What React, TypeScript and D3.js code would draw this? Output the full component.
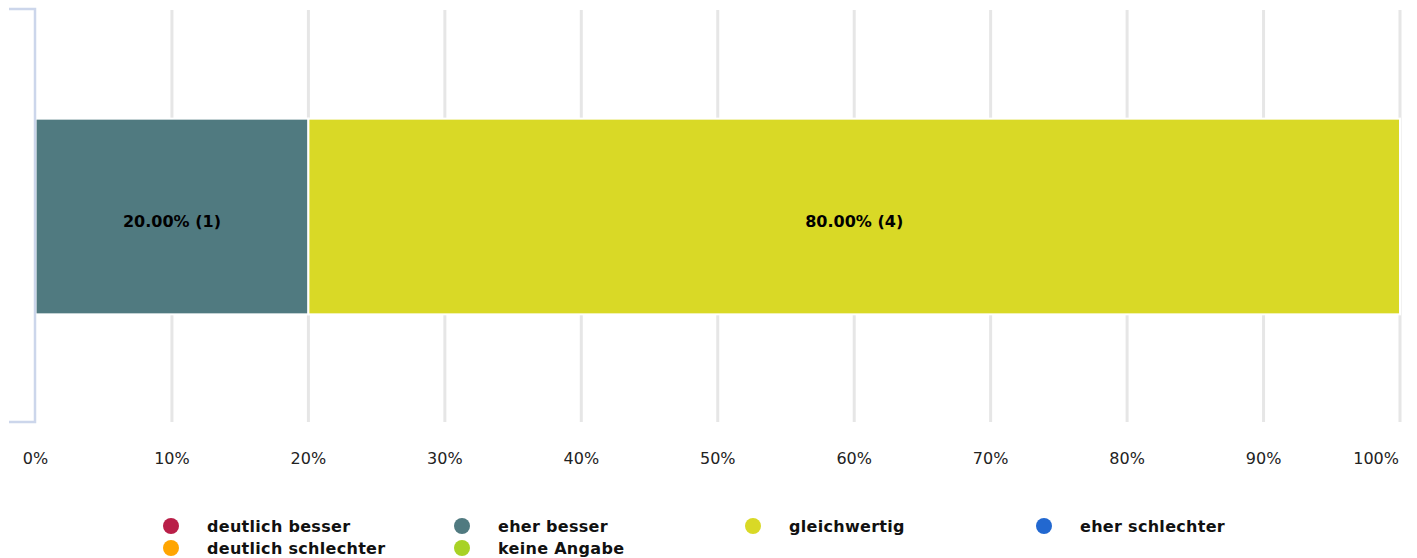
import React from "react";
import * as d3 from "d3";

const categories = ["deutlich besser", "eher besser", "gleichwertig", "eher schlechter", "deutlich schlechter", "keine Angabe"];
const counts = [0, 1, 4, 0, 0, 0];
const colors = ["#b91f48", "#507a80", "#d9d926", "#2268d0", "#ffa500", "#a8d225"];
const tickValues = [0, 10, 20, 30, 40, 50, 60, 70, 80, 90, 100];

export default function App() {
  const W = 1417, H = 558;
  const x = d3.scaleLinear().domain([0, 100]).range([35.5, 1400]);
  const y = d3.scaleBand().domain(["row"]).range([12, 421]).paddingInner(0).paddingOuter(0.545);
  const total = d3.sum(counts);
  let acc = 0;
  const segs = counts.map((c, i) => {
    const start = acc;
    acc += (c / total) * 100;
    return { c, i, start, end: acc, pct: (c / total) * 100 };
  }).filter(s => s.c > 0);
  const font = "'DejaVu Sans', sans-serif";
  const legendX = [171, 462, 753, 1044];
  const legendY = [526, 548];
  return (
    <svg width={W} height={H} style={{ position: "absolute", left: 0, top: 0 }} fontFamily={font}>
      {tickValues.slice(1).map(t => (
        <line key={t} x1={x(t)} x2={x(t)} y1={10} y2={422} stroke="#e6e6e6" strokeWidth={3} />
      ))}
      {segs.map(s => (
        <rect key={s.i} x={x(s.start)} y={y("row")!} width={x(s.end) - x(s.start)} height={y.bandwidth()}
          fill={colors[s.i]} stroke="#ffffff" strokeWidth={2} />
      ))}
      {segs.map(s => (
        <text key={"l" + s.i} x={(x(s.start) + x(s.end)) / 2} y={y("row")! + y.bandwidth() / 2 + 10}
          textAnchor="middle" fontSize={16} fontWeight="bold" fill="#000">
          {s.pct.toFixed(2)}% ({s.c})
        </text>
      ))}
      <path d={`M9,9 H35 V422 H9`} fill="none" stroke="#ccd6eb" strokeWidth={2.5} />
      {tickValues.map((t, i) => (
        <text key={"t" + t} x={i === tickValues.length - 1 ? x(t) - 1 : x(t)} y={464}
          textAnchor={i === tickValues.length - 1 ? "end" : "middle"} fontSize={16} fill="#222">{t}%</text>
      ))}
      {categories.map((c, i) => {
        const col = i % 4, row = Math.floor(i / 4);
        return (
          <g key={c}>
            <circle cx={legendX[col]} cy={legendY[row]} r={8} fill={colors[i]} />
            <text x={legendX[col] + 36} y={legendY[row] + 6} fontSize={16} letterSpacing={0.3} fontWeight="bold" fill="#111">{c}</text>
          </g>
        );
      })}
    </svg>
  );
}
